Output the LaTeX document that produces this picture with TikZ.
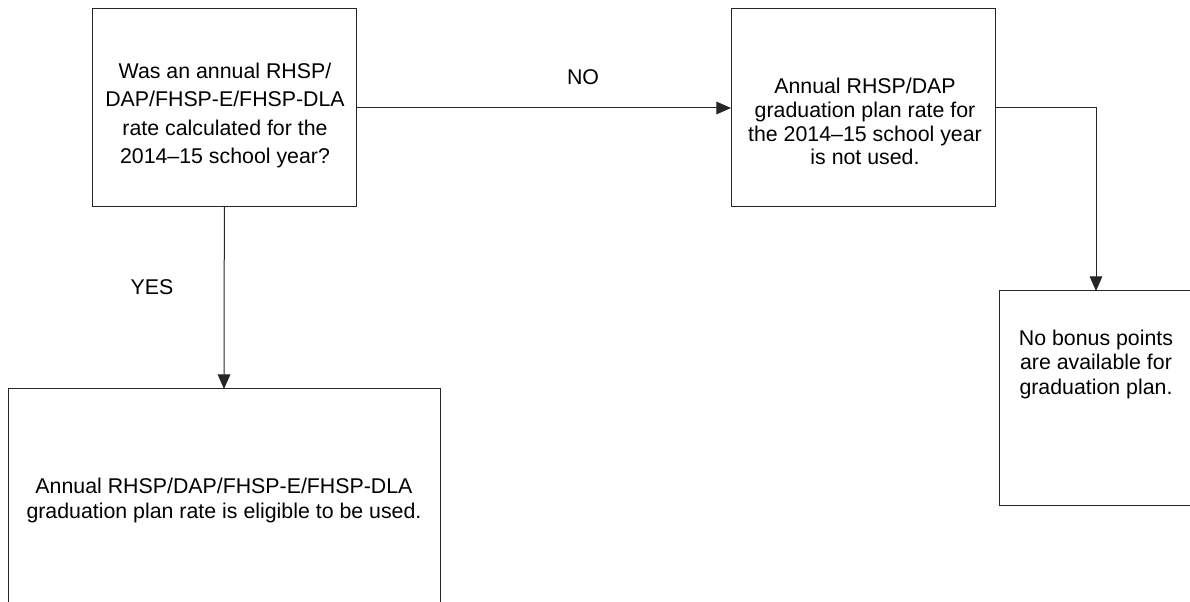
\documentclass[tikz,border=0pt]{standalone}
\usepackage{fontspec}
\setmainfont{Liberation Sans}
\usetikzlibrary{arrows.meta}
\begin{document}
\begin{tikzpicture}[x=0.75pt,y=-0.75pt,
  box/.style={draw=black!85, line width=0.75pt, rectangle, inner sep=0pt, outer sep=0pt},
  txt/.style={inner sep=0pt, align=center, anchor=north},
  conn/.style={draw=black!85, line width=0.75pt, -{Triangle[length=11pt,width=9.5pt]}},
  lbl/.style={inner sep=0pt, font=\fontsize{16}{19}\selectfont}]
\useasboundingbox (0,0) rectangle (1190,602);
\clip (0,0) rectangle (1190,602);
% boxes
\node[box, minimum width=197.5pt, minimum height=148.5pt] (A) at (224.35,108) {};
\node[box, minimum width=198pt, minimum height=148.5pt] (B) at (863,108) {};
\node[box, minimum width=324pt, minimum height=162.75pt] (C) at (224,497.5) {};
\node[box, minimum width=145.5pt, minimum height=160.5pt] (D) at (1096,398) {};
% texts
\node[txt, font=\fontsize{16}{21.2}\selectfont] (tA) at (225,63)
  {Was an annual RHSP/\\DAP/FHSP-E/FHSP-DLA\\rate calculated for the\\2014--15 school year?};
\node[txt, font=\fontsize{16}{17.75}\selectfont] (tB) at (865,78)
  {Annual RHSP/DAP\\graduation plan rate for\\the 2014--15 school year\\is not used.};
\node[txt, font=\fontsize{16}{18.75}\selectfont] (tC) at (224,478)
  {Annual RHSP/DAP/FHSP-E/FHSP-DLA\\graduation plan rate is eligible to be used.};
\node[txt, font=\fontsize{16}{18.15}\selectfont] (tD) at (1096,330)
  {No bonus points\\are available for\\graduation plan.};
% connectors
\draw[conn] (A.east) -- (B.west);
\draw[conn] (A.south) -- (C.north);
\draw[conn] (B.east) -| (D.north);
% labels
\node[lbl] (no) at (583,77) {NO};
\node[lbl] (yes) at (152,287) {YES};
\end{tikzpicture}
\end{document}
